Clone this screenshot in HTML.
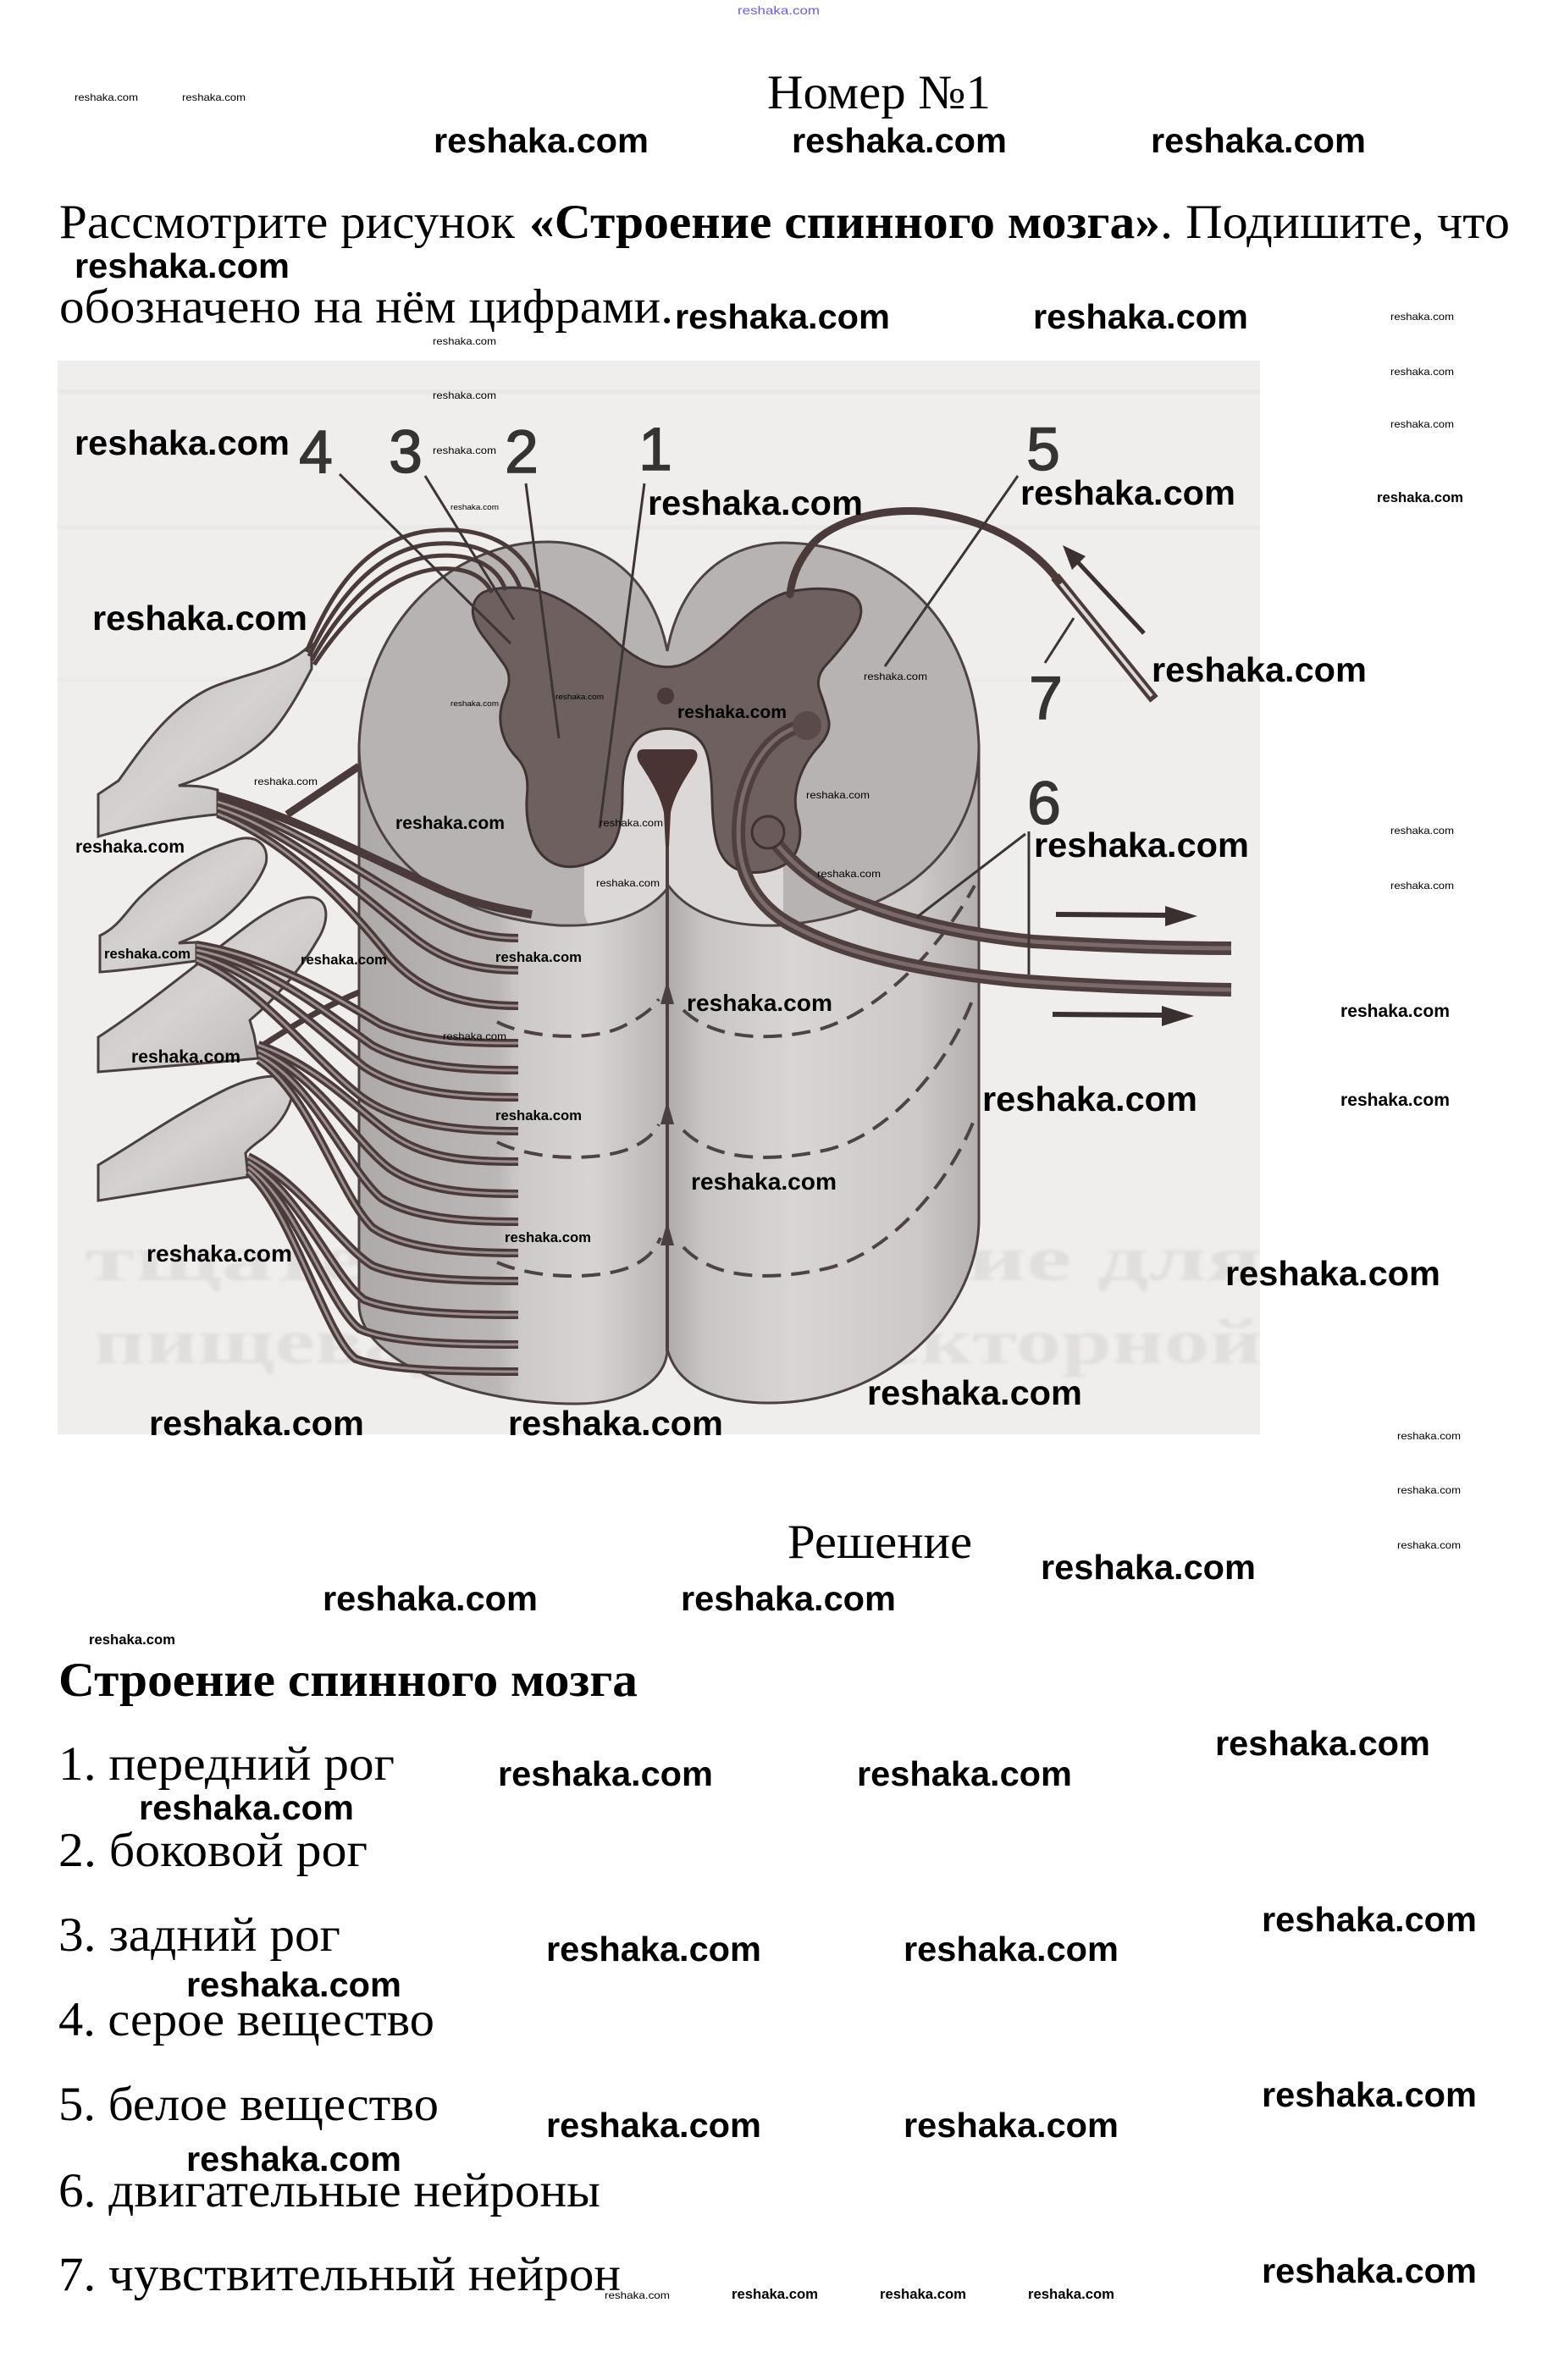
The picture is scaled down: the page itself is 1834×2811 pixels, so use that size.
<!DOCTYPE html>
<html>
<head>
<meta charset="utf-8">
<style>
html,body{margin:0;padding:0;background:#fff;}
svg{display:block;}
</style>
</head>
<body>
<svg xmlns="http://www.w3.org/2000/svg" width="1834" height="2811" viewBox="0 0 1834 2811">
<defs>
<style>
.w{font-family:"Liberation Sans",sans-serif;font-weight:bold;fill:#000;}
.s{font-family:"Liberation Serif","Noto Serif CJK SC",serif;fill:#000;}
.n{font-family:"Liberation Sans",sans-serif;fill:#363333;stroke:#363333;stroke-width:1.6;text-anchor:middle;font-size:71px;}
.ld{stroke:#3d3535;stroke-width:3;fill:none;}
.fb{fill:none;stroke:#4a3b3a;stroke-width:10;stroke-linecap:butt;}
.fi{fill:none;stroke:#9a8f8e;stroke-width:3;stroke-linecap:butt;}
.ds{fill:none;stroke:#4d4343;stroke-width:4;stroke-dasharray:22 12;}
</style>
<linearGradient id="gl" x1="424" y1="0" x2="788" y2="0" gradientUnits="userSpaceOnUse">
<stop offset="0" stop-color="#aeaaaa"/>
<stop offset="0.45" stop-color="#bcb7b7"/>
<stop offset="0.52" stop-color="#cdc9c9"/>
<stop offset="0.75" stop-color="#d8d4d4"/>
<stop offset="1" stop-color="#b9b5b5"/>
</linearGradient>
<linearGradient id="gr" x1="788" y1="0" x2="1156" y2="0" gradientUnits="userSpaceOnUse">
<stop offset="0" stop-color="#b0abab"/>
<stop offset="0.12" stop-color="#c9c5c5"/>
<stop offset="0.4" stop-color="#d9d5d5"/>
<stop offset="0.8" stop-color="#cdc9c9"/>
<stop offset="1" stop-color="#b3afaf"/>
</linearGradient>
<linearGradient id="gg" x1="0" y1="0" x2="1" y2="1">
<stop offset="0" stop-color="#bdb8b8"/>
<stop offset="0.5" stop-color="#d6d2d2"/>
<stop offset="1" stop-color="#b8b3b3"/>
</linearGradient>
<clipPath id="faceclip">
<path d="M 424,880 C 430,730 540,638 650,640 C 730,642 775,700 788,769 C 800,700 845,642 925,641 C 1050,642 1150,730 1156,880 C 1156,990 1080,1080 920,1093 C 860,1095 815,1080 790,1047 C 765,1080 720,1095 660,1093 C 500,1080 424,990 424,880 Z"/>
</clipPath>
<filter id="blur"><feGaussianBlur stdDeviation="1.8"/></filter>
</defs>

<rect x="0" y="0" width="1834" height="2811" fill="#ffffff"/>

<!-- ============ DIAGRAM ============ -->
<rect x="68" y="426" width="1420" height="1268" fill="#f0eded"/>
<rect x="68" y="460" width="1420" height="6" fill="#e6e3e3" opacity="0.6"/>
<rect x="68" y="620" width="1420" height="6" fill="#e6e3e3" opacity="0.5"/>
<rect x="68" y="800" width="1420" height="5" fill="#e8e5e5" opacity="0.5"/>

<!-- ghost text -->
<g filter="url(#blur)">
<text x="100" y="1512" class="s" font-size="76" font-weight="bold" textLength="1390" lengthAdjust="spacingAndGlyphs" style="fill:#e1dede">тщательное значение для</text>
<text x="110" y="1610" class="s" font-size="76" font-weight="bold" textLength="1380" lengthAdjust="spacingAndGlyphs" style="fill:#e1dede">пищеварения рефлекторной</text>
</g>

<!-- cylinder halves -->
<path d="M 424,880 L 424,1540 C 424,1610 560,1658 680,1658 C 745,1658 788,1630 788,1593 L 788,880 Z" fill="url(#gl)" stroke="#4d4242" stroke-width="3"/>
<path d="M 788,880 L 788,1593 C 800,1640 850,1657 908,1657 C 1060,1657 1156,1540 1156,1440 L 1156,880 Z" fill="url(#gr)" stroke="#4d4242" stroke-width="3"/>

<!-- dashed arcs -->
<path class="ds" d="M 807,1193 C 840,1225 900,1232 967,1216 C 1040,1195 1110,1120 1151,1046"/>
<path class="ds" d="M 807,1335 C 840,1368 900,1375 977,1358 C 1050,1340 1120,1260 1151,1174"/>
<path class="ds" d="M 807,1473 C 840,1508 900,1515 977,1498 C 1050,1480 1120,1400 1151,1321"/>
<path class="ds" d="M 587,1207 C 620,1225 700,1232 738,1211 C 760,1200 772,1190 778,1180"/>
<path class="ds" d="M 587,1349 C 630,1370 700,1372 740,1358 C 760,1350 772,1340 778,1328"/>
<path class="ds" d="M 587,1491 C 630,1510 700,1512 740,1498 C 760,1490 772,1480 780,1462"/>

<!-- midline -->
<line x1="788" y1="990" x2="788" y2="1596" stroke="#4a4040" stroke-width="4"/>
<polygon points="788,1158 780,1186 796,1186" fill="#4a4040"/>
<polygon points="788,1300 780,1328 796,1328" fill="#4a4040"/>
<polygon points="788,1443 780,1471 796,1471" fill="#4a4040"/>

<!-- face (cross-section) -->
<path d="M 424,880 C 430,730 540,638 650,640 C 730,642 775,700 788,769 C 800,700 845,642 925,641 C 1050,642 1150,730 1156,880 C 1156,990 1080,1080 920,1093 C 860,1095 815,1080 790,1047 C 765,1080 720,1095 660,1093 C 500,1080 424,990 424,880 Z" fill="#b8b3b3"/>
<g clip-path="url(#faceclip)">
<rect x="690" y="855" width="235" height="250" rx="30" fill="#dcd8d8"/>
<line x1="788" y1="990" x2="788" y2="1100" stroke="#4a4040" stroke-width="4"/>
</g>
<path d="M 424,880 C 430,730 540,638 650,640 C 730,642 775,700 788,769 C 800,700 845,642 925,641 C 1050,642 1150,730 1156,880 C 1156,990 1080,1080 920,1093 C 860,1095 815,1080 790,1047 C 765,1080 720,1095 660,1093 C 500,1080 424,990 424,880 Z" fill="none" stroke="#4d4343" stroke-width="3"/>

<!-- grey matter -->
<path d="M 558.5,725 Q 557,712 566,703 Q 575,694 607.5,694 Q 640,694 672.5,714.5 Q 705,735 725,755 Q 745,775 766.5,783.5 Q 788,792 809,783.5 Q 830,775 867.5,740 Q 905,705 932.5,699 Q 960,693 986,696.5 Q 1012,700 1016,715 Q 1020,730 1005,750 Q 990,770 976,785 Q 962,800 968.5,817.5 Q 975,835 978.5,850 Q 982,865 966,882.5 Q 950,900 943,922.5 Q 936,945 942,965 Q 948,985 941.5,1002.5 Q 935,1020 915,1026.5 Q 895,1033 877.5,1029 Q 860,1025 851,1007.5 Q 842,990 841,945 Q 840,900 832.5,884 Q 825,868 806.5,863 Q 788,858 770,863 Q 752,868 743.5,886.5 Q 735,905 735,940 Q 735,975 726.5,993.5 Q 718,1012 694,1020 Q 670,1028 652.5,1019 Q 635,1010 627.5,987.5 Q 620,965 622.5,937.5 Q 625,910 610.5,895 Q 596,880 592,860 Q 588,840 597,820 Q 606,800 595.5,785 Q 585,770 572.5,754 Q 560,738 558.5,725 Z" fill="#6e605f" stroke="#3f3333" stroke-width="3"/>

<!-- canal and dot -->
<path d="M 760,885 C 750,885 751,896 757,904 C 768,921 780,940 784,960 L 786,1000 L 790,1000 L 792,960 C 796,940 808,921 819,904 C 825,896 826,885 816,885 Z" fill="#4a3433"/>
<circle cx="786" cy="822" r="10" fill="#4a3a3a"/>

<!-- sensory fiber -->
<path d="M 1363,826 L 1246,681" stroke="#4a3b3a" stroke-width="12" fill="none"/>
<path d="M 1360,822 L 1250,686" stroke="#dcd8d8" stroke-width="4" fill="none"/>
<path d="M 1250,686 C 1215,640 1160,612 1090,604 C 1030,600 975,620 955,648 C 940,668 935,685 933,702" stroke="#4a3b3a" stroke-width="9" fill="none" stroke-linecap="round"/>

<!-- motor fibers -->
<path d="M 953,857 C 915,860 885,900 875,950 C 865,1010 880,1060 930,1090 C 1000,1130 1100,1148 1200,1158 C 1300,1166 1400,1168 1454,1169" stroke="#4f403f" stroke-width="16" fill="none"/>
<path d="M 953,857 C 915,860 885,900 875,950 C 865,1010 880,1060 930,1090 C 1000,1130 1100,1148 1200,1158 C 1300,1166 1400,1168 1454,1169" stroke="#7a6b6a" stroke-width="5" fill="none"/>
<circle cx="953" cy="857" r="17" fill="#5a4b4a"/>
<path d="M 907,983 C 925,1010 955,1040 1000,1060 C 1060,1085 1130,1103 1220,1112 C 1320,1118 1400,1120 1454,1120" stroke="#4f403f" stroke-width="16" fill="none"/>
<path d="M 907,983 C 925,1010 955,1040 1000,1060 C 1060,1085 1130,1103 1220,1112 C 1320,1118 1400,1120 1454,1120" stroke="#7a6b6a" stroke-width="5" fill="none"/>
<circle cx="907" cy="983" r="19" fill="#6a5a59" stroke="#3f3232" stroke-width="3"/>

<!-- ganglia -->
<path d="M 368,760 C 340,790 290,795 250,812 C 200,835 170,880 140,922 L 116,938 L 116,988 C 160,975 220,965 257,962 L 257,933 C 240,928 225,928 211,928 C 260,912 300,890 325,860 C 345,835 360,805 368,790 Z" fill="url(#gg)" stroke="#4a4040" stroke-width="3"/>
<path d="M 118,1105 C 140,1095 150,1075 165,1060 C 190,1035 230,1005 282,991 C 305,986 318,1000 314,1020 C 305,1045 280,1075 250,1095 C 235,1105 220,1110 211,1114 L 232,1113 L 232,1135 C 190,1140 150,1146 118,1148 Z" fill="url(#gg)" stroke="#4a4040" stroke-width="3"/>
<path d="M 116,1225 C 170,1190 230,1140 290,1095 C 320,1072 350,1058 370,1060 C 390,1064 388,1090 375,1110 C 355,1145 325,1180 295,1205 L 300,1222 L 305,1250 C 240,1256 170,1262 116,1266 Z" fill="url(#gg)" stroke="#4a4040" stroke-width="3"/>
<path d="M 116,1376 C 160,1350 210,1315 260,1290 C 295,1272 330,1265 342,1278 C 352,1295 335,1325 310,1345 C 300,1352 293,1358 290,1362 L 293,1390 C 230,1400 170,1410 116,1418 Z" fill="url(#gg)" stroke="#4a4040" stroke-width="3"/>

<!-- dorsal root fibers -->
<g fill="none" stroke="#4a3b3a" stroke-width="5">
<path d="M 362,770 C 390,700 430,640 500,628 C 570,618 620,645 634,694"/>
<path d="M 365,775 C 395,712 440,652 505,643 C 565,636 602,660 614,694"/>
<path d="M 368,780 C 400,722 448,665 510,657 C 560,652 588,670 597,697"/>
<path d="M 371,785 C 405,733 455,679 515,672 C 553,669 572,682 581,700"/>
</g>

<!-- ramus -->
<line x1="339" y1="962" x2="424" y2="905" stroke="#4a3b3a" stroke-width="9"/>

<!-- root fibers -->
<g>
<path class="fb" d="M 257,940 C 350,965 450,1020 530,1055 C 570,1070 600,1075 628,1080"/>
<path class="fb" d="M 257,947 C 350,975 440,1040 500,1075 C 540,1098 570,1108 612,1108"/>
<path class="fb" d="M 257,954 C 350,985 430,1060 480,1100 C 520,1135 560,1146 612,1146"/>
<path class="fb" d="M 257,961 C 345,995 420,1080 460,1130 C 500,1175 550,1188 612,1188"/>
<path class="fb" d="M 232,1116 C 320,1130 400,1180 450,1210 C 500,1232 560,1232 612,1232"/>
<path class="fb" d="M 232,1122 C 320,1140 390,1200 440,1235 C 490,1262 560,1264 612,1264"/>
<path class="fb" d="M 232,1128 C 310,1150 380,1220 430,1260 C 480,1294 560,1296 612,1296"/>
<path class="fb" d="M 232,1134 C 300,1160 370,1250 420,1290 C 470,1333 560,1336 612,1336"/>
<path class="fb" d="M 305,1234 C 380,1260 430,1320 470,1345 C 510,1370 560,1372 612,1372"/>
<path class="fb" d="M 305,1240 C 375,1270 420,1350 460,1380 C 500,1408 560,1410 612,1410"/>
<path class="fb" d="M 305,1246 C 370,1280 410,1380 450,1415 C 490,1441 560,1443 612,1443"/>
<path class="fb" d="M 305,1252 C 365,1290 400,1410 440,1450 C 480,1478 560,1480 612,1480"/>
<path class="fb" d="M 293,1366 C 360,1400 400,1470 440,1495 C 480,1512 560,1513 612,1513"/>
<path class="fb" d="M 293,1372 C 355,1410 395,1510 430,1535 C 470,1552 560,1553 612,1553"/>
<path class="fb" d="M 293,1378 C 350,1420 390,1545 425,1570 C 465,1588 560,1588 612,1588"/>
<path class="fb" d="M 293,1384 C 345,1430 385,1580 420,1605 C 460,1620 560,1620 612,1620"/>
<path class="fb" d="M 305,1238 C 340,1215 380,1190 424,1172" style="stroke-width:7"/>
</g>
<g>
<path class="fi" d="M 257,947 C 350,975 440,1040 500,1075 C 540,1098 570,1108 612,1108"/>
<path class="fi" d="M 257,954 C 350,985 430,1060 480,1100 C 520,1135 560,1146 612,1146"/>
<path class="fi" d="M 257,961 C 345,995 420,1080 460,1130 C 500,1175 550,1188 612,1188"/>
<path class="fi" d="M 232,1116 C 320,1130 400,1180 450,1210 C 500,1232 560,1232 612,1232"/>
<path class="fi" d="M 232,1122 C 320,1140 390,1200 440,1235 C 490,1262 560,1264 612,1264"/>
<path class="fi" d="M 232,1128 C 310,1150 380,1220 430,1260 C 480,1294 560,1296 612,1296"/>
<path class="fi" d="M 232,1134 C 300,1160 370,1250 420,1290 C 470,1333 560,1336 612,1336"/>
<path class="fi" d="M 305,1234 C 380,1260 430,1320 470,1345 C 510,1370 560,1372 612,1372"/>
<path class="fi" d="M 305,1240 C 375,1270 420,1350 460,1380 C 500,1408 560,1410 612,1410"/>
<path class="fi" d="M 305,1246 C 370,1280 410,1380 450,1415 C 490,1441 560,1443 612,1443"/>
<path class="fi" d="M 305,1252 C 365,1290 400,1410 440,1450 C 480,1478 560,1480 612,1480"/>
<path class="fi" d="M 293,1366 C 360,1400 400,1470 440,1495 C 480,1512 560,1513 612,1513"/>
<path class="fi" d="M 293,1372 C 355,1410 395,1510 430,1535 C 470,1552 560,1553 612,1553"/>
<path class="fi" d="M 293,1378 C 350,1420 390,1545 425,1570 C 465,1588 560,1588 612,1588"/>
<path class="fi" d="M 293,1384 C 345,1430 385,1580 420,1605 C 460,1620 560,1620 612,1620"/>
</g>

<!-- leader lines -->
<line class="ld" x1="401" y1="560" x2="603" y2="760"/>
<line class="ld" x1="502" y1="562" x2="607" y2="732"/>
<line class="ld" x1="621" y1="571" x2="660" y2="872"/>
<line class="ld" x1="761" y1="571" x2="708" y2="978"/>
<line class="ld" x1="1202" y1="562" x2="1045" y2="787"/>
<line class="ld" x1="1268" y1="730" x2="1234" y2="783"/>
<line class="ld" x1="1215" y1="982" x2="1215" y2="1151"/>
<line class="ld" x1="1211" y1="985" x2="1083" y2="1083"/>

<!-- arrows -->
<line x1="1351" y1="748" x2="1272" y2="663" stroke="#3a3030" stroke-width="5"/>
<polygon points="1255,644 1282,657 1266,673" fill="#3a3030"/>
<line x1="1247" y1="1080" x2="1380" y2="1081" stroke="#3a3030" stroke-width="6"/>
<polygon points="1414,1082 1376,1070 1376,1094" fill="#3a3030"/>
<line x1="1243" y1="1198" x2="1376" y2="1199" stroke="#3a3030" stroke-width="6"/>
<polygon points="1410,1200 1372,1188 1372,1212" fill="#3a3030"/>

<!-- numbers -->
<text class="n" x="373" y="558">4</text>
<text class="n" x="479" y="558">3</text>
<text class="n" x="616" y="558">2</text>
<text class="n" x="774" y="555">1</text>
<text class="n" x="1232" y="555">5</text>
<text class="n" x="1235" y="849">7</text>
<text class="n" x="1233" y="973">6</text>

<!-- ============ TEXT ============ -->
<text x="871" y="17" font-family="Liberation Sans, sans-serif" font-size="14" fill="#6a5cf0" textLength="97" lengthAdjust="spacingAndGlyphs">reshaka.com</text>

<text class="s" x="906" y="128" font-size="57" textLength="264" lengthAdjust="spacingAndGlyphs">Номер №1</text>

<text class="s" x="70" y="281" font-size="57" textLength="538" lengthAdjust="spacingAndGlyphs">Рассмотрите рисунок</text>
<text class="s" x="625" y="281" font-size="57" font-weight="bold" textLength="745" lengthAdjust="spacingAndGlyphs">«Строение спинного мозга»</text>
<text class="s" x="1370" y="281" font-size="57" textLength="413" lengthAdjust="spacingAndGlyphs">. Подишите, что</text>
<text class="s" x="70" y="381" font-size="57" textLength="725" lengthAdjust="spacingAndGlyphs">обозначено на нём цифрами.</text>

<text class="s" x="930" y="1840" font-size="57" textLength="218" lengthAdjust="spacingAndGlyphs">Решение</text>

<text class="s" x="69" y="2003" font-size="57" font-weight="bold" textLength="684" lengthAdjust="spacingAndGlyphs">Строение спинного мозга</text>

<text class="s" x="69" y="2102" font-size="57" textLength="397" lengthAdjust="spacingAndGlyphs">1. передний рог</text>
<text class="s" x="69" y="2204" font-size="57" textLength="365" lengthAdjust="spacingAndGlyphs">2. боковой рог</text>
<text class="s" x="69" y="2304" font-size="57" textLength="333" lengthAdjust="spacingAndGlyphs">3. задний рог</text>
<text class="s" x="69" y="2404" font-size="57" textLength="444" lengthAdjust="spacingAndGlyphs">4. серое вещество</text>
<text class="s" x="69" y="2504" font-size="57" textLength="449" lengthAdjust="spacingAndGlyphs">5. белое вещество</text>
<text class="s" x="69" y="2606" font-size="57" textLength="640" lengthAdjust="spacingAndGlyphs">6. двигательные нейроны</text>
<text class="s" x="69" y="2705" font-size="57" textLength="664" lengthAdjust="spacingAndGlyphs">7. чувствительный нейрон</text>

<!-- ============ WATERMARKS ============ -->
<g class="w" font-size="41">
<text x="512" y="180" textLength="254" lengthAdjust="spacingAndGlyphs">reshaka.com</text>
<text x="935" y="180" textLength="254" lengthAdjust="spacingAndGlyphs">reshaka.com</text>
<text x="1359" y="180" textLength="254" lengthAdjust="spacingAndGlyphs">reshaka.com</text>
<text x="88" y="328" textLength="254" lengthAdjust="spacingAndGlyphs">reshaka.com</text>
<text x="797" y="388" textLength="254" lengthAdjust="spacingAndGlyphs">reshaka.com</text>
<text x="1220" y="388" textLength="254" lengthAdjust="spacingAndGlyphs">reshaka.com</text>
<text x="88" y="537" textLength="254" lengthAdjust="spacingAndGlyphs">reshaka.com</text>
<text x="765" y="608" textLength="254" lengthAdjust="spacingAndGlyphs">reshaka.com</text>
<text x="1205" y="596" textLength="254" lengthAdjust="spacingAndGlyphs">reshaka.com</text>
<text x="109" y="744" textLength="254" lengthAdjust="spacingAndGlyphs">reshaka.com</text>
<text x="1360" y="805" textLength="254" lengthAdjust="spacingAndGlyphs">reshaka.com</text>
<text x="1221" y="1012" textLength="254" lengthAdjust="spacingAndGlyphs">reshaka.com</text>
<text x="1160" y="1312" textLength="254" lengthAdjust="spacingAndGlyphs">reshaka.com</text>
<text x="1447" y="1518" textLength="254" lengthAdjust="spacingAndGlyphs">reshaka.com</text>
<text x="1024" y="1659" textLength="254" lengthAdjust="spacingAndGlyphs">reshaka.com</text>
<text x="176" y="1695" textLength="254" lengthAdjust="spacingAndGlyphs">reshaka.com</text>
<text x="600" y="1695" textLength="254" lengthAdjust="spacingAndGlyphs">reshaka.com</text>
<text x="1229" y="1865" textLength="254" lengthAdjust="spacingAndGlyphs">reshaka.com</text>
<text x="381" y="1902" textLength="254" lengthAdjust="spacingAndGlyphs">reshaka.com</text>
<text x="804" y="1902" textLength="254" lengthAdjust="spacingAndGlyphs">reshaka.com</text>
<text x="1435" y="2073" textLength="254" lengthAdjust="spacingAndGlyphs">reshaka.com</text>
<text x="588" y="2109" textLength="254" lengthAdjust="spacingAndGlyphs">reshaka.com</text>
<text x="1012" y="2109" textLength="254" lengthAdjust="spacingAndGlyphs">reshaka.com</text>
<text x="164" y="2149" textLength="254" lengthAdjust="spacingAndGlyphs">reshaka.com</text>
<text x="1490" y="2281" textLength="254" lengthAdjust="spacingAndGlyphs">reshaka.com</text>
<text x="645" y="2316" textLength="254" lengthAdjust="spacingAndGlyphs">reshaka.com</text>
<text x="1067" y="2316" textLength="254" lengthAdjust="spacingAndGlyphs">reshaka.com</text>
<text x="220" y="2358" textLength="254" lengthAdjust="spacingAndGlyphs">reshaka.com</text>
<text x="1490" y="2488" textLength="254" lengthAdjust="spacingAndGlyphs">reshaka.com</text>
<text x="645" y="2524" textLength="254" lengthAdjust="spacingAndGlyphs">reshaka.com</text>
<text x="1067" y="2524" textLength="254" lengthAdjust="spacingAndGlyphs">reshaka.com</text>
<text x="220" y="2564" textLength="254" lengthAdjust="spacingAndGlyphs">reshaka.com</text>
<text x="1490" y="2696" textLength="254" lengthAdjust="spacingAndGlyphs">reshaka.com</text>
</g>
<g class="w" font-size="28">
<text x="811" y="1194" textLength="172" lengthAdjust="spacingAndGlyphs">reshaka.com</text>
<text x="816" y="1405" textLength="172" lengthAdjust="spacingAndGlyphs">reshaka.com</text>
<text x="173" y="1490" textLength="172" lengthAdjust="spacingAndGlyphs">reshaka.com</text>
</g>
<g class="w" font-size="21">
<text x="800" y="848" textLength="129" lengthAdjust="spacingAndGlyphs">reshaka.com</text>
<text x="467" y="979" textLength="129" lengthAdjust="spacingAndGlyphs">reshaka.com</text>
<text x="89" y="1007" textLength="129" lengthAdjust="spacingAndGlyphs">reshaka.com</text>
<text x="1583" y="1201" textLength="129" lengthAdjust="spacingAndGlyphs">reshaka.com</text>
<text x="155" y="1255" textLength="129" lengthAdjust="spacingAndGlyphs">reshaka.com</text>
<text x="1583" y="1306" textLength="129" lengthAdjust="spacingAndGlyphs">reshaka.com</text>
</g>
<g class="w" font-size="17">
<text x="1626" y="593" textLength="102" lengthAdjust="spacingAndGlyphs">reshaka.com</text>
<text x="123" y="1132" textLength="102" lengthAdjust="spacingAndGlyphs">reshaka.com</text>
<text x="355" y="1139" textLength="102" lengthAdjust="spacingAndGlyphs">reshaka.com</text>
<text x="585" y="1136" textLength="102" lengthAdjust="spacingAndGlyphs">reshaka.com</text>
<text x="585" y="1323" textLength="102" lengthAdjust="spacingAndGlyphs">reshaka.com</text>
<text x="596" y="1467" textLength="102" lengthAdjust="spacingAndGlyphs">reshaka.com</text>
<text x="105" y="1942" textLength="102" lengthAdjust="spacingAndGlyphs">reshaka.com</text>
<text x="864" y="2715" textLength="102" lengthAdjust="spacingAndGlyphs">reshaka.com</text>
<text x="1039" y="2715" textLength="102" lengthAdjust="spacingAndGlyphs">reshaka.com</text>
<text x="1214" y="2715" textLength="102" lengthAdjust="spacingAndGlyphs">reshaka.com</text>
</g>
<g class="w" font-size="12" style="font-weight:normal">
<text x="88" y="119" textLength="75" lengthAdjust="spacingAndGlyphs">reshaka.com</text>
<text x="215" y="119" textLength="75" lengthAdjust="spacingAndGlyphs">reshaka.com</text>
<text x="1642" y="378" textLength="75" lengthAdjust="spacingAndGlyphs">reshaka.com</text>
<text x="511" y="407" textLength="75" lengthAdjust="spacingAndGlyphs">reshaka.com</text>
<text x="511" y="471" textLength="75" lengthAdjust="spacingAndGlyphs">reshaka.com</text>
<text x="1642" y="443" textLength="75" lengthAdjust="spacingAndGlyphs">reshaka.com</text>
<text x="511" y="536" textLength="75" lengthAdjust="spacingAndGlyphs">reshaka.com</text>
<text x="1642" y="505" textLength="75" lengthAdjust="spacingAndGlyphs">reshaka.com</text>
<text x="1020" y="803" textLength="75" lengthAdjust="spacingAndGlyphs">reshaka.com</text>
<text x="300" y="927" textLength="75" lengthAdjust="spacingAndGlyphs">reshaka.com</text>
<text x="952" y="943" textLength="75" lengthAdjust="spacingAndGlyphs">reshaka.com</text>
<text x="708" y="976" textLength="75" lengthAdjust="spacingAndGlyphs">reshaka.com</text>
<text x="1642" y="985" textLength="75" lengthAdjust="spacingAndGlyphs">reshaka.com</text>
<text x="1642" y="1050" textLength="75" lengthAdjust="spacingAndGlyphs">reshaka.com</text>
<text x="704" y="1047" textLength="75" lengthAdjust="spacingAndGlyphs">reshaka.com</text>
<text x="965" y="1036" textLength="75" lengthAdjust="spacingAndGlyphs">reshaka.com</text>
<text x="523" y="1228" textLength="75" lengthAdjust="spacingAndGlyphs">reshaka.com</text>
<text x="1650" y="1700" textLength="75" lengthAdjust="spacingAndGlyphs">reshaka.com</text>
<text x="1650" y="1764" textLength="75" lengthAdjust="spacingAndGlyphs">reshaka.com</text>
<text x="1650" y="1829" textLength="75" lengthAdjust="spacingAndGlyphs">reshaka.com</text>
<text x="714" y="2715" textLength="77" lengthAdjust="spacingAndGlyphs">reshaka.com</text>
</g>
<g class="w" font-size="9.5" style="font-weight:normal">
<text x="532" y="602" textLength="57" lengthAdjust="spacingAndGlyphs">reshaka.com</text>
<text x="532" y="834" textLength="57" lengthAdjust="spacingAndGlyphs">reshaka.com</text>
<text x="656" y="826" textLength="57" lengthAdjust="spacingAndGlyphs">reshaka.com</text>
</g>
</svg>
</body>
</html>
